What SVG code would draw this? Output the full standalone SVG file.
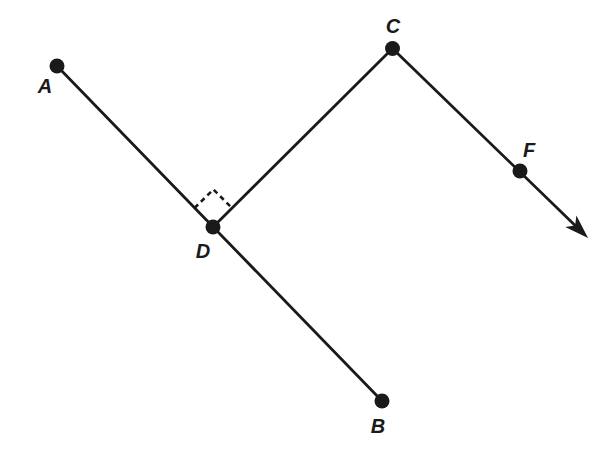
<svg xmlns="http://www.w3.org/2000/svg" width="605" height="460" viewBox="0 0 605 460">
  <style>
    .ln { stroke: #1a1a1a; stroke-width: 2.8; fill: none; stroke-linecap: round; }
    .dot { fill: #1a1a1a; }
    .lbl { font-family: "Liberation Sans", Arial, sans-serif; font-size: 20px; font-weight: bold; font-style: italic; fill: #1a1a1a; text-anchor: middle; }
    .ra { stroke: #1a1a1a; stroke-width: 2.6; fill: none; stroke-dasharray: 5 4; }
  </style>
  <defs>
    <marker id="arr" markerUnits="userSpaceOnUse" markerWidth="30" markerHeight="20" viewBox="-12 -10 30 20" refX="0" refY="0" orient="auto">
      <path d="M14,0 L-10,-8 L-4,0 L-10,8 Z" fill="#1a1a1a"/>
    </marker>
  </defs>
  <rect width="605" height="460" fill="#ffffff"/>
  <g id="connectors">
    <line class="ln" x1="57" y1="66" x2="382" y2="401"/>
    <line class="ln" x1="213" y1="227" x2="392.5" y2="48.5"/>
    <line class="ln" x1="392.5" y1="48.5" x2="578" y2="228.2" marker-end="url(#arr)" style="stroke-linecap:butt"/>
    <polyline class="ra" points="194.5,208 213.4,189.5 232,208"/>
  </g>
  <g id="A"><circle class="dot" cx="57" cy="66" r="7.5"/><text class="lbl" x="45" y="93">A</text></g>
  <g id="C"><circle class="dot" cx="392.5" cy="48.5" r="7.5"/><text class="lbl" x="393" y="32.5">C</text></g>
  <g id="D"><circle class="dot" cx="213" cy="227" r="7.5"/><text class="lbl" x="203" y="258">D</text></g>
  <g id="B"><circle class="dot" cx="382" cy="401" r="7.5"/><text class="lbl" x="378" y="433">B</text></g>
  <g id="F"><circle class="dot" cx="520" cy="171" r="7.5"/><text class="lbl" x="529" y="157">F</text></g>
</svg>
